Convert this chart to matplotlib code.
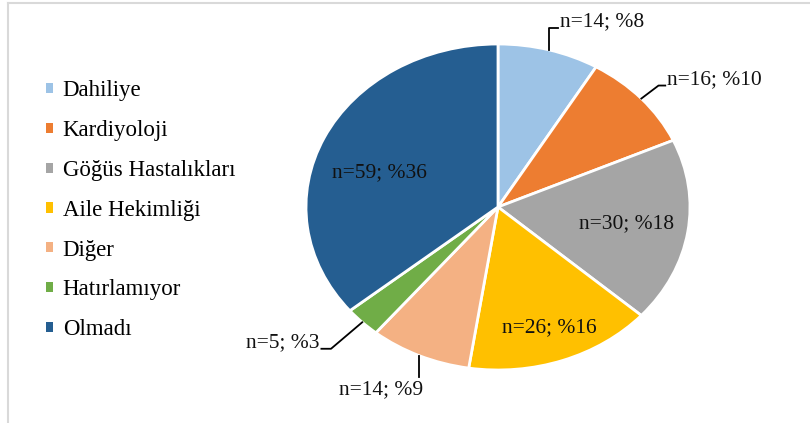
import numpy as np
import matplotlib.pyplot as plt
from matplotlib.lines import Line2D
from matplotlib.patches import Patch

plt.rcParams['font.family'] = ['Liberation Serif', 'DejaVu Serif']

categories = ['Dahiliye', 'Kardiyoloji', 'Göğüs Hastalıkları', 'Aile Hekimliği',
              'Diğer', 'Hatırlamıyor', 'Olmadı']
counts = [14, 16, 30, 26, 14, 5, 59]
percents = [8, 10, 18, 16, 9, 3, 36]
colors = ['#9DC3E6', '#ED7D31', '#A5A5A5', '#FFC000', '#F4B183', '#70AD47', '#255E91']

W, H = 810, 423
fig = plt.figure(figsize=(W / 100, H / 100), dpi=100)
ax = fig.add_axes([0, 0, 1, 1])

# pie centre and radii in pixels (the pie is a bit wider than tall)
cx, cy, rx, ry = 498, 207, 192, 163

wedges, _ = ax.pie(counts, colors=colors, startangle=90, counterclock=False,
                   wedgeprops=dict(edgecolor='white', linewidth=2))
ax.set_aspect('auto')
ax.set_xlim(-cx / rx, (W - cx) / rx)
ax.set_ylim((cy - H) / ry, cy / ry)
ax.axis('off')

# label placement per wedge
# (kind, radius, elbow radius, horizontal tail)
style = [
    ('up', None, 1.14, 0.05),
    ('out', None, 1.12, 0.035),
    ('in', 0.68, None, None),
    ('in', 0.79, None, None),
    ('down', None, 1.14, 0.0),
    ('out', None, 1.23, 0.05),
    ('in', 0.68, None, None),
]
fs = 15.5

total = sum(counts)
start = 90.0
for w, n, p, (kind, r, r1, tail) in zip(wedges, counts, percents, style):
    span = 360.0 * n / total
    mid = np.radians(start - span / 2)
    start -= span
    txt = f'n={n}; %{p}'
    c, s = np.cos(mid), np.sin(mid)
    if kind == 'in':
        ax.text(r * c, r * s - (0.08 if c < -0.5 else 0), txt, ha='center', va='center',
                fontsize=fs, color='#111111')
        continue
    x0, y0 = c, s
    x1, y1 = r1 * c, r1 * s
    if kind in ('up', 'down'):
        x1 = x0
    side = 1 if c > 0 else -1
    x2 = x1 + side * tail
    ax.add_line(Line2D([x0, x1, x2], [y0, y1, y1], color='black', lw=1.3))
    if kind == 'down':
        ax.text(x1 + 0.02, y1 - 0.02, txt, ha='right', va='top', fontsize=fs,
                color='#111111')
    else:
        ax.text(x2 + side * 0.01, y1 + 0.035, txt, ha='left' if side > 0 else 'right',
                va='center', fontsize=fs, color='#111111')

handles = [Patch(facecolor=col, edgecolor='none') for col in colors]
leg = fig.legend(handles, categories, loc='upper left', bbox_to_anchor=(0.043, 0.837),
                 frameon=False, fontsize=16.5, handlelength=0.3, handleheight=0.3,
                 handletextpad=0.42, labelspacing=0.82, borderpad=0)

# thin grey frame on the top and left edges
fig.add_artist(Line2D([8 / W, 1], [1 - 3 / H, 1 - 3 / H], color='#D9D9D9', lw=1.5))
fig.add_artist(Line2D([8 / W, 8 / W], [0, 1 - 3 / H], color='#D9D9D9', lw=1.5))

fig.savefig('out.png', dpi=100)
